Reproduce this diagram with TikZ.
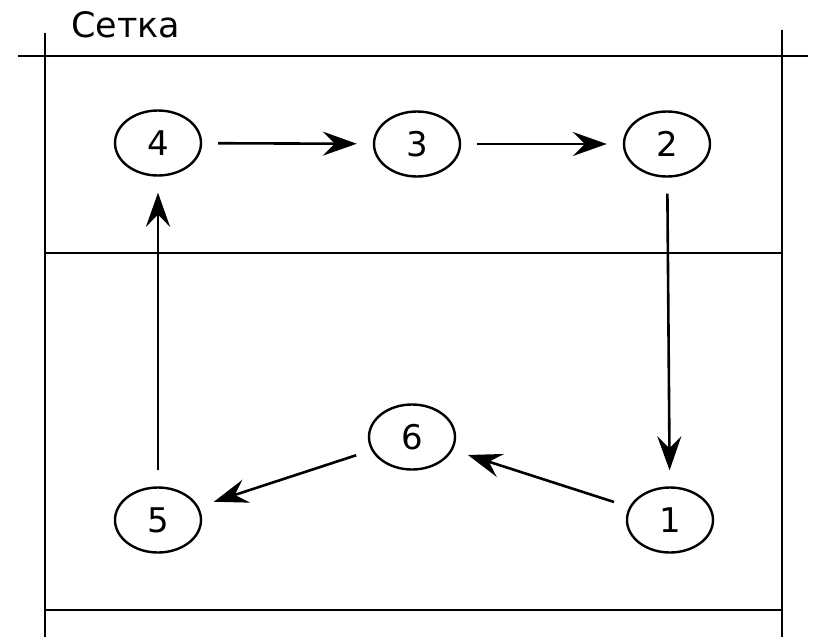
\documentclass[tikz,border=0pt]{standalone}
\usepackage{fontspec}
\setmainfont{DejaVu Sans}
\usetikzlibrary{arrows.meta,shapes.geometric}
\begin{document}
\begin{tikzpicture}[x=1pt,y=-1pt,
  gridline/.style={line width=2.8pt,black},
  state/.style={ellipse,draw,line width=2.4pt,minimum width=86pt,minimum height=65pt,inner sep=0pt,font=\fontsize{34}{40}\selectfont},
  flow/.style={line width=2.6pt,-{Stealth[length=34pt,width=24pt,inset=12pt]},shorten >=16pt,shorten <=16pt}]
\useasboundingbox (0,0) rectangle (818,637);
% grid
\draw[gridline] (45,33) -- (45,637);
\draw[gridline] (782,30) -- (782,637);
\draw[gridline] (18,56) -- (808,56);
\draw[gridline] (45,253) -- (782,253);
\draw[gridline] (45,610) -- (782,610);
\node[anchor=base west,inner sep=0pt,font=\fontsize{35}{40}\selectfont] (title) at (71,37) {Сетка};
% nodes
\node[state] (n4) at (158,143) {4};
\node[state] (n3) at (417,144) {3};
\node[state] (n2) at (667,144) {2};
\node[state] (n6) at (412,437) {6};
\node[state] (n5) at (158,520) {5};
\node[state] (n1) at (670,520) {1};
% arrows
\draw[flow] (n4) -- (n3);
\draw[flow] (n3) -- (n2);
\draw[flow] (n2) -- (n1);
\draw[flow] (n1) -- (n6);
\draw[flow] (n6) -- (n5);
\draw[flow] (n5) -- (n4);
\end{tikzpicture}
\end{document}
